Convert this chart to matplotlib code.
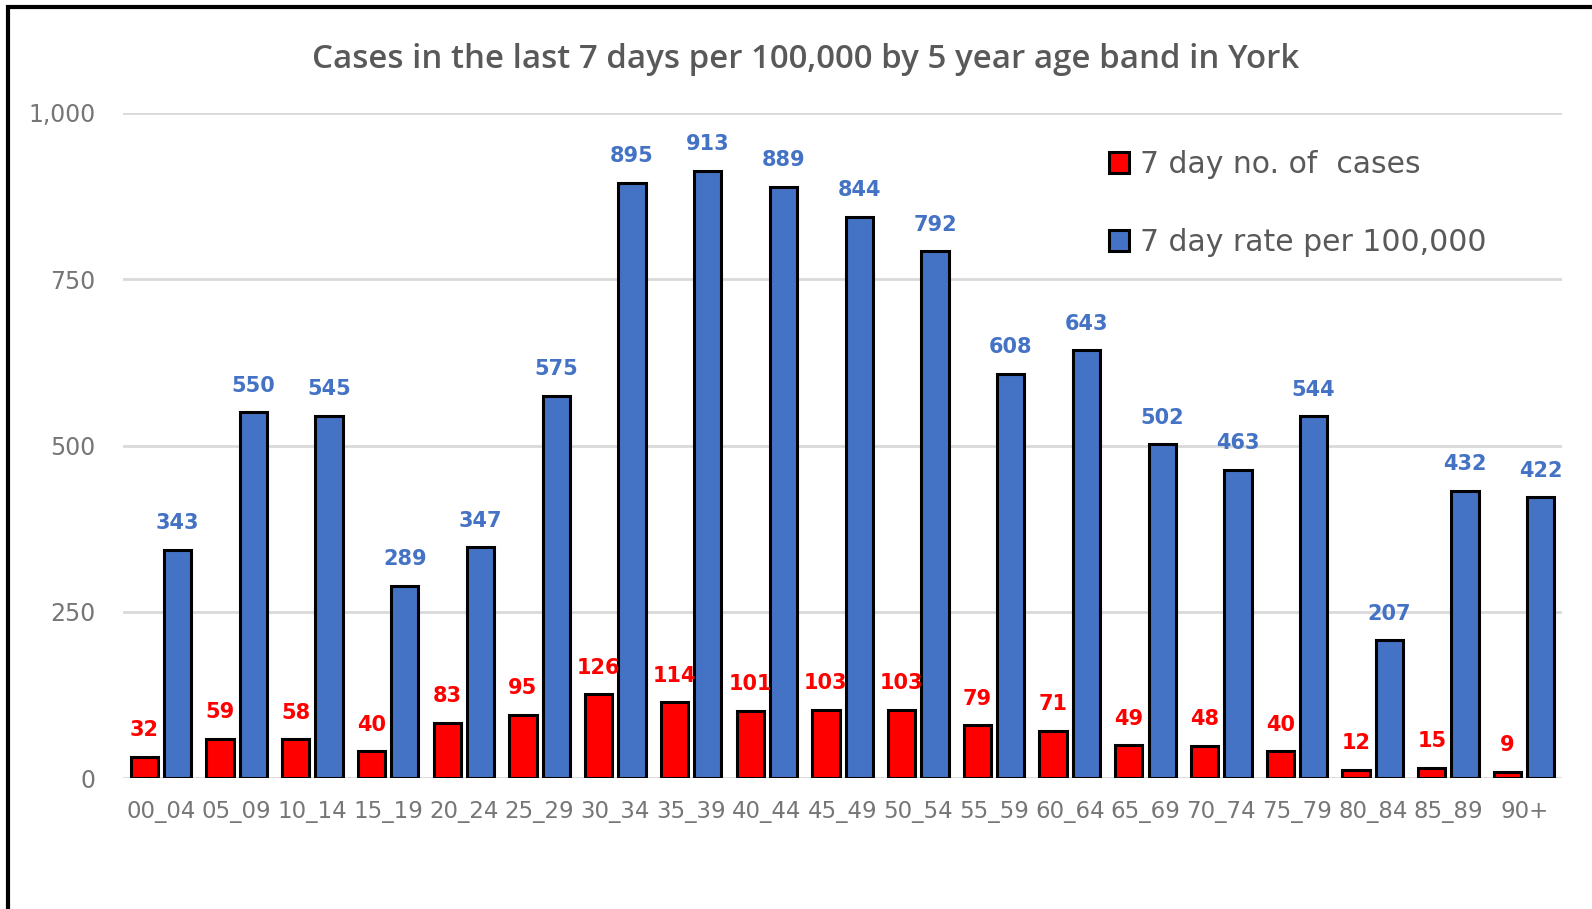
import numpy as np
import matplotlib.pyplot as plt
from matplotlib.patches import Rectangle
from matplotlib.ticker import FuncFormatter

age_bands = ["00_04", "05_09", "10_14", "15_19", "20_24", "25_29", "30_34",
             "35_39", "40_44", "45_49", "50_54", "55_59", "60_64", "65_69",
             "70_74", "75_79", "80_84", "85_89", "90+"]
cases_7day = [32, 59, 58, 40, 83, 95, 126, 114, 101, 103, 103, 79, 71, 49,
              48, 40, 12, 15, 9]
rate_7day = [343, 550, 545, 289, 347, 575, 895, 913, 889, 844, 792, 608, 643,
             502, 463, 544, 207, 432, 422]

RED = "#ff0000"
BLUE = "#4472c4"
GREY = "#595959"

fig = plt.figure(figsize=(15.92, 9.09), dpi=100)
ax = fig.add_axes([0.0773, 0.1441, 0.9039, 0.7316])

x = np.arange(len(age_bands))
w = 0.36
off = 0.22
b1 = ax.bar(x - off, cases_7day, w, color=RED, edgecolor="black", linewidth=2.2,
            label="7 day no. of  cases", zorder=3)
b2 = ax.bar(x + off, rate_7day, w, color=BLUE, edgecolor="black", linewidth=2.2,
            label="7 day rate per 100,000", zorder=3)

ax.bar_label(b1, padding=12, color=RED, fontsize=15, fontweight="bold")
ax.bar_label(b2, padding=12, color=BLUE, fontsize=15, fontweight="bold")

ax.set_xlim(-0.5, len(age_bands) - 0.5)
ax.set_ylim(0, 1000)
ax.set_yticks([0, 250, 500, 750, 1000])
ax.yaxis.set_major_formatter(FuncFormatter(lambda v, p: f"{int(v):,}"))
ax.set_xticks(x)
ax.set_xticklabels(age_bands)
ax.tick_params(axis="both", length=0, labelsize=17, labelcolor="#767676")
ax.tick_params(axis="x", labelsize=16.5, pad=16)
ax.tick_params(axis="y", pad=20)
ax.grid(axis="y", color="#d9d9d9", linewidth=2, zorder=0)
for s in ax.spines.values():
    s.set_visible(False)

fig.text(0.506, 0.935, "Cases in the last 7 days per 100,000 by 5 year age band in York",
         ha="center", va="center", fontsize=23.8, color=GREY, family="Open Sans",
         fontweight="semibold")

leg = fig.legend(handles=[b1, b2], loc="upper left", bbox_to_anchor=(0.6966, 0.835),
                 frameon=False, fontsize=21.5, handlelength=0.68, handleheight=0.68,
                 handletextpad=0.35, labelspacing=1.64, borderpad=0,
                 borderaxespad=0, labelcolor=GREY)

# frame around the whole picture (only left/top visible in the reference)
fig.patches.append(Rectangle((0.0053, -0.1), 1.2, 1.0923, transform=fig.transFigure,
                             fill=False, edgecolor="black", linewidth=3))

fig.savefig("out.png", dpi=100)
